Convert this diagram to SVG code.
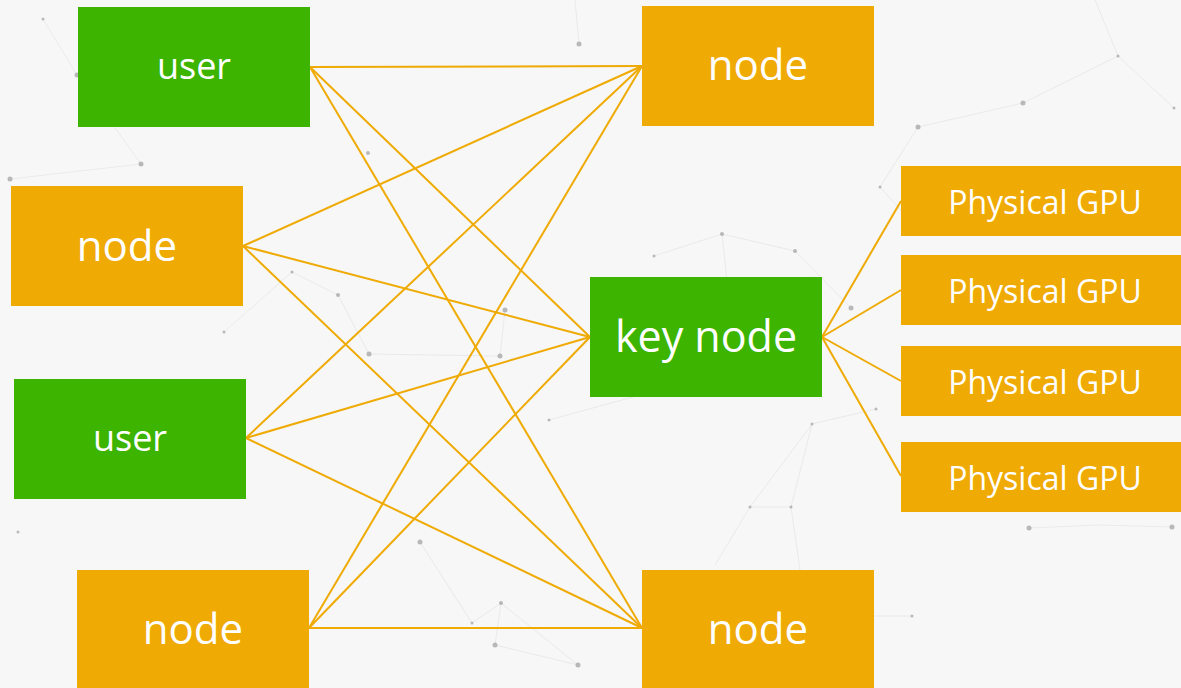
<svg xmlns="http://www.w3.org/2000/svg" width="1181" height="688" viewBox="0 0 1181 688">
  <style>
    .bg-line { stroke: #e2e2e2; stroke-width: 1; fill: none; opacity: 0.6; }
    .bg-dot { fill: #a0a0a0; opacity: 0.7; }
    .green { fill: #3cb400; }
    .orange { fill: #efaa03; }
    .label { fill: #ffffff; font-family: "Open Sans", "Noto Sans", sans-serif; text-anchor: middle; }
    .big { font-size: 42px; }
    .key { font-size: 43px; }
    .user { font-size: 36px; }
    .gpu { font-size: 32px; }
    .edge { stroke: #efaa03; stroke-width: 2; fill: none; }
  </style>

  <!-- backdrop -->
  <rect width="1181" height="688" fill="#f7f7f7"/>

  <!-- faint plexus pattern -->
  <g id="backdrop-network">
    <g class="bg-line">
      <path d="M43 19 L77 75 L141 164 L10 179"/>
      <path d="M292 272 L338 295 L369 354"/>
      <path d="M224 332 L292 272"/>
      <path d="M505 310 L500 356 L369 354"/>
      <path d="M579 44 L575 0"/>
      <path d="M654 256 L722 234 L795 251 L851 308"/>
      <path d="M722 234 L728 290"/>
      <path d="M880 187 L905 215"/>
      <path d="M880 187 L918 127"/>
      <path d="M918 127 L1023 103 L1118 56 L1174 108"/>
      <path d="M1118 56 L1095 0"/>
      <path d="M812 424 L876 409"/>
      <path d="M812 424 L791 507 L750 507 L812 424"/>
      <path d="M750 507 L715 565"/>
      <path d="M791 507 L800 570"/>
      <path d="M549 420 L640 395"/>
      <path d="M420 542 L472 623 L501 603 L495 645 L578 665"/>
      <path d="M501 603 L578 665"/>
      <path d="M874 616 L912 616"/>
      <path d="M1029 528 L1100 525 L1172 527"/>
    </g>
    <g class="bg-dot">
      <circle cx="43" cy="19" r="1.5"/>
      <circle cx="77" cy="75" r="2.5"/>
      <circle cx="141" cy="164" r="2.5"/>
      <circle cx="10" cy="179" r="2.5"/>
      <circle cx="368" cy="153" r="2"/>
      <circle cx="579" cy="44" r="2.5"/>
      <circle cx="292" cy="272" r="1.5"/>
      <circle cx="338" cy="295" r="2"/>
      <circle cx="224" cy="332" r="1.5"/>
      <circle cx="369" cy="354" r="2.5"/>
      <circle cx="505" cy="310" r="2.5"/>
      <circle cx="500" cy="356" r="2.5"/>
      <circle cx="654" cy="256" r="1.5"/>
      <circle cx="722" cy="234" r="2"/>
      <circle cx="795" cy="251" r="2"/>
      <circle cx="851" cy="308" r="2.5"/>
      <circle cx="880" cy="187" r="1.5"/>
      <circle cx="918" cy="127" r="2.5"/>
      <circle cx="1023" cy="103" r="2.5"/>
      <circle cx="1118" cy="56" r="1.5"/>
      <circle cx="1174" cy="108" r="1.5"/>
      <circle cx="812" cy="424" r="1.5"/>
      <circle cx="876" cy="409" r="1.5"/>
      <circle cx="750" cy="507" r="1.5"/>
      <circle cx="791" cy="507" r="1.5"/>
      <circle cx="549" cy="420" r="1.5"/>
      <circle cx="420" cy="542" r="2.5"/>
      <circle cx="501" cy="603" r="2"/>
      <circle cx="472" cy="623" r="1.5"/>
      <circle cx="495" cy="645" r="2.5"/>
      <circle cx="578" cy="665" r="2.5"/>
      <circle cx="912" cy="616" r="1.5"/>
      <circle cx="1029" cy="528" r="2.5"/>
      <circle cx="1172" cy="527" r="2.5"/>
      <circle cx="18" cy="532" r="1.5"/>
    </g>
  </g>

  <!-- connectors -->
  <g id="connectors" class="edge">
    <!-- user (top) -->
    <line x1="310" y1="67" x2="642" y2="66"/>
    <line x1="310" y1="67" x2="590" y2="337"/>
    <line x1="310" y1="67" x2="642" y2="628"/>
    <!-- node (left) -->
    <line x1="243" y1="246" x2="642" y2="66"/>
    <line x1="243" y1="246" x2="590" y2="337"/>
    <line x1="243" y1="246" x2="642" y2="628"/>
    <!-- user (lower) -->
    <line x1="246" y1="438" x2="642" y2="66"/>
    <line x1="246" y1="438" x2="590" y2="337"/>
    <line x1="246" y1="438" x2="642" y2="628"/>
    <!-- node (bottom left) -->
    <line x1="309" y1="628" x2="642" y2="66"/>
    <line x1="309" y1="628" x2="590" y2="337"/>
    <line x1="309" y1="628" x2="642" y2="628"/>
    <!-- key node to GPUs -->
    <line x1="822" y1="337" x2="901" y2="201"/>
    <line x1="822" y1="337" x2="901" y2="290"/>
    <line x1="822" y1="337" x2="901" y2="381"/>
    <line x1="822" y1="337" x2="901" y2="476"/>
  </g>

  <!-- left column -->
  <g id="user-top">
    <rect class="green" x="78" y="7" width="232" height="120"/>
    <text class="label user" x="194" y="79">user</text>
  </g>
  <g id="node-left">
    <rect class="orange" x="11" y="186" width="232" height="120"/>
    <text class="label big" x="127" y="261">node</text>
  </g>
  <g id="user-lower">
    <rect class="green" x="14" y="379" width="232" height="120"/>
    <text class="label user" x="130" y="451">user</text>
  </g>
  <g id="node-bottom-left">
    <rect class="orange" x="77" y="570" width="232" height="120"/>
    <text class="label big" x="193" y="644">node</text>
  </g>

  <!-- middle column -->
  <g id="node-top-right">
    <rect class="orange" x="642" y="6" width="232" height="120"/>
    <text class="label big" x="758" y="80">node</text>
  </g>
  <g id="key-node">
    <rect class="green" x="590" y="277" width="232" height="120"/>
    <text class="label key" x="706" y="352">key node</text>
  </g>
  <g id="node-bottom-right">
    <rect class="orange" x="642" y="570" width="232" height="120"/>
    <text class="label big" x="758" y="644">node</text>
  </g>

  <!-- GPUs -->
  <g id="gpu-1">
    <rect class="orange" x="901" y="166" width="280" height="70"/>
    <text class="label gpu" x="1045" y="214">Physical GPU</text>
  </g>
  <g id="gpu-2">
    <rect class="orange" x="901" y="255" width="280" height="70"/>
    <text class="label gpu" x="1045" y="303">Physical GPU</text>
  </g>
  <g id="gpu-3">
    <rect class="orange" x="901" y="346" width="280" height="70"/>
    <text class="label gpu" x="1045" y="394">Physical GPU</text>
  </g>
  <g id="gpu-4">
    <rect class="orange" x="901" y="442" width="280" height="70"/>
    <text class="label gpu" x="1045" y="490">Physical GPU</text>
  </g>
</svg>
